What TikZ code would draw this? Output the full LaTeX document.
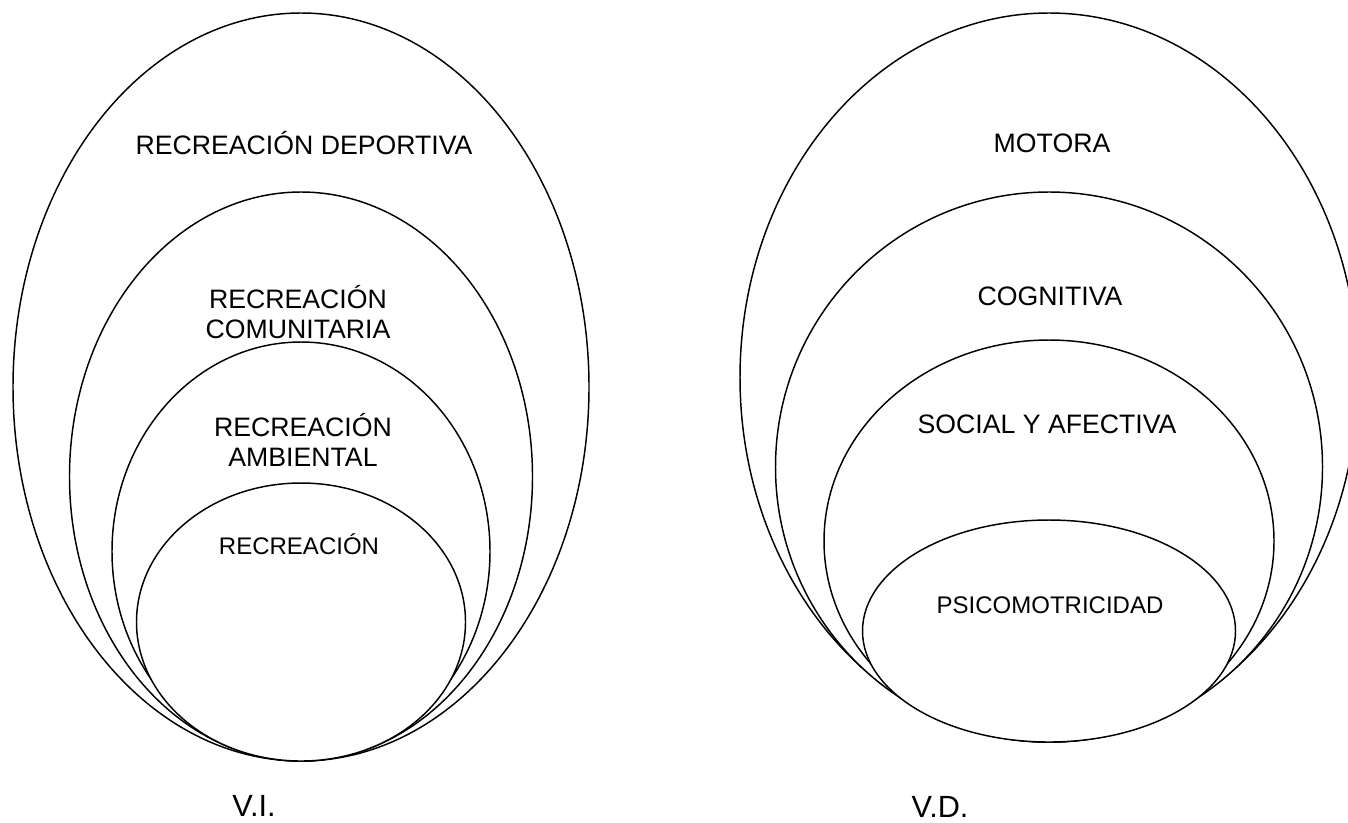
\documentclass[tikz,border=0pt]{standalone}
\usepackage{fontspec}
\setmainfont{Liberation Sans}
\begin{document}
\begin{tikzpicture}[x=0.75pt,y=-0.75pt,
	ring/.style={draw,line width=1.1pt,fill=white},
	lbl/.style={anchor=base,align=center,font=\fontsize{20}{22.5}\selectfont},
	small/.style={anchor=base,font=\fontsize{18}{21}\selectfont},
	var/.style={anchor=base,font=\fontsize{23}{27}\selectfont}]
				\useasboundingbox (0,0) rectangle (1348,822);
				% V.I.
				\draw[ring] (301,387) ellipse [x radius=288,y radius=374];
				\draw[ring] (301,476.5) ellipse [x radius=231.5,y radius=284.5];
				\draw[ring] (301,551.5) ellipse [x radius=189,y radius=209.5];
				\draw[ring] (301,622) ellipse [x radius=164.5,y radius=139];
				% V.D.
				\draw[ring] (1049,377.5) ellipse [x radius=309,y radius=364.5];
				\draw[ring] (1049,467) ellipse [x radius=273.5,y radius=275];
				\draw[ring] (1049,541) ellipse [x radius=225,y radius=201];
				\draw[ring] (1049,631) ellipse [x radius=186.5,y radius=111];
				\node[lbl] (deport) at (304,154) {RECREACIÓN DEPORTIVA};
				\node[lbl] (comun) at (298,338) {RECREACIÓN\\COMUNITARIA};
				\node[lbl] (ambient) at (303,466) {RECREACIÓN\\AMBIENTAL};
				\node[small] (recr) at (299,554) {RECREACIÓN};
				\node[var] (vi) at (254,816) {V.I.};
				\node[lbl] (motora) at (1052,152) {MOTORA};
				\node[lbl] (cogn) at (1050,305) {COGNITIVA};
				\node[lbl] (social) at (1047,433) {SOCIAL Y AFECTIVA};
				\node[small] (psico) at (1050,613) {PSICOMOTRICIDAD};
				\node[var] (vd) at (940,817) {V.D.};
			\end{tikzpicture}
\end{document}
